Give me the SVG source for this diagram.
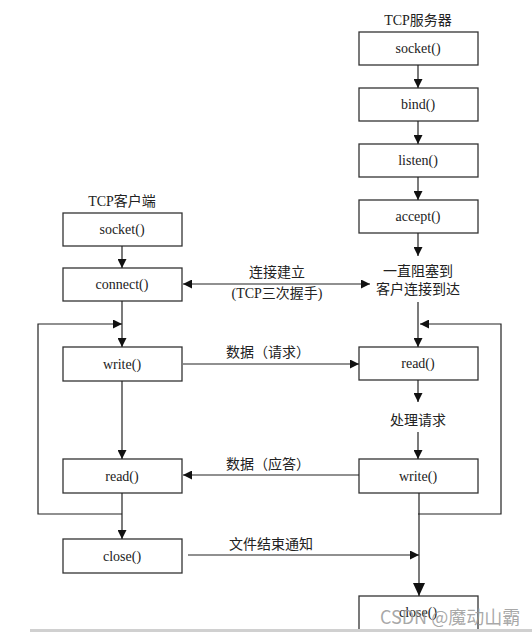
<svg xmlns="http://www.w3.org/2000/svg" width="532" height="632" viewBox="0 0 532 632">
<style>
.box{fill:#fff;stroke:#333;stroke-width:1.3}
.t{font-family:"Liberation Serif","Noto Sans CJK SC",serif;font-size:14px;fill:#222;text-anchor:middle}
.ln{stroke:#222;stroke-width:1.2;fill:none}
.wm{font-family:"Noto Sans CJK SC","Liberation Sans",sans-serif;font-size:18px;fill:#999;fill-opacity:0.85;text-anchor:start}
</style>
<defs>
<marker id="ah" markerUnits="userSpaceOnUse" markerWidth="9" markerHeight="9" refX="9" refY="4.5" orient="auto-start-reverse">
<path d="M0,0 L9,4.5 L0,9 z" fill="#111"/>
</marker>
<marker id="ahb" markerUnits="userSpaceOnUse" markerWidth="13" markerHeight="12" refX="13" refY="6" orient="auto">
<path d="M0,0 L13,6 L0,12 z" fill="#111"/>
</marker>
</defs>
<rect width="532" height="632" fill="#fff"/>
<text class="t" x="418" y="25">TCP服务器</text>
<text class="t" x="122" y="206">TCP客户端</text>
<g id="s_socket"><rect class="box" x="359" y="32" width="119" height="33"/><text class="t" x="418" y="53">socket()</text></g>
<g id="s_bind"><rect class="box" x="359" y="88" width="119" height="33"/><text class="t" x="418" y="109">bind()</text></g>
<g id="s_listen"><rect class="box" x="359" y="144" width="119" height="33"/><text class="t" x="418" y="165">listen()</text></g>
<g id="s_accept"><rect class="box" x="359" y="200" width="119" height="33"/><text class="t" x="418" y="221">accept()</text></g>
<g id="s_wait"><text class="t" x="418" y="276">一直阻塞到</text><text class="t" x="418" y="294">客户连接到达</text></g>
<g id="s_read"><rect class="box" x="359" y="347" width="119" height="33"/><text class="t" x="418" y="368">read()</text></g>
<g id="s_proc"><text class="t" x="418" y="425">处理请求</text></g>
<g id="s_write"><rect class="box" x="359" y="459" width="119" height="34"/><text class="t" x="418" y="481">write()</text></g>
<g id="s_close"><rect class="box" x="359" y="596" width="119" height="34"/><text class="t" x="418" y="617">close()</text></g>
<g id="c_socket"><rect class="box" x="63" y="213" width="119" height="33"/><text class="t" x="122" y="234">socket()</text></g>
<g id="c_connect"><rect class="box" x="63" y="268" width="119" height="33"/><text class="t" x="122" y="289">connect()</text></g>
<g id="c_write"><rect class="box" x="63" y="347" width="119" height="34"/><text class="t" x="122" y="369">write()</text></g>
<g id="c_read"><rect class="box" x="63" y="459" width="119" height="34"/><text class="t" x="122" y="481">read()</text></g>
<g id="c_close"><rect class="box" x="63" y="539" width="119" height="34"/><text class="t" x="122" y="561">close()</text></g>
<g id="labels">
<text class="t" x="277" y="277">连接建立</text>
<text class="t" x="277" y="298">(TCP三次握手)</text>
<text class="t" x="268" y="357">数据（请求）</text>
<text class="t" x="268" y="469">数据（应答）</text>
<text class="t" x="271" y="549">文件结束通知</text>
</g>
<g id="connectors">
<line class="ln" x1="418" y1="65" x2="418" y2="88" marker-end="url(#ah)"/>
<line class="ln" x1="418" y1="121" x2="418" y2="144" marker-end="url(#ah)"/>
<line class="ln" x1="418" y1="177" x2="418" y2="200" marker-end="url(#ah)"/>
<line class="ln" x1="418" y1="233" x2="418" y2="256" marker-end="url(#ah)"/>
<line class="ln" x1="418" y1="302" x2="418" y2="347" marker-end="url(#ah)"/>
<polyline class="ln" points="418,514 501,514 501,324 420,324" marker-end="url(#ah)"/>
<line class="ln" x1="418" y1="380" x2="418" y2="402" marker-end="url(#ah)"/>
<line class="ln" x1="418" y1="432" x2="418" y2="459" marker-end="url(#ah)"/>
<line class="ln" x1="419" y1="493" x2="419" y2="596" marker-end="url(#ahb)"/>
<line class="ln" x1="122" y1="246" x2="122" y2="268" marker-end="url(#ah)"/>
<line class="ln" x1="183" y1="284" x2="370" y2="284" marker-start="url(#ah)" marker-end="url(#ah)"/>
<line class="ln" x1="122" y1="301" x2="122" y2="347" marker-end="url(#ah)"/>
<polyline class="ln" points="122,514 38,514 38,324 122,324" marker-end="url(#ah)"/>
<line class="ln" x1="122" y1="381" x2="122" y2="459" marker-end="url(#ah)"/>
<line class="ln" x1="122" y1="493" x2="122" y2="539" marker-end="url(#ah)"/>
<line class="ln" x1="183" y1="364" x2="359" y2="364" marker-end="url(#ah)"/>
<line class="ln" x1="359" y1="475" x2="183" y2="475" marker-end="url(#ah)"/>
<line class="ln" x1="188" y1="555" x2="419" y2="555" marker-end="url(#ah)"/>
</g>
<rect x="30" y="629" width="502" height="3" fill="#d0d0d0"/>
<text class="wm" x="380" y="624">CSDN @魔动山霸</text>
</svg>
